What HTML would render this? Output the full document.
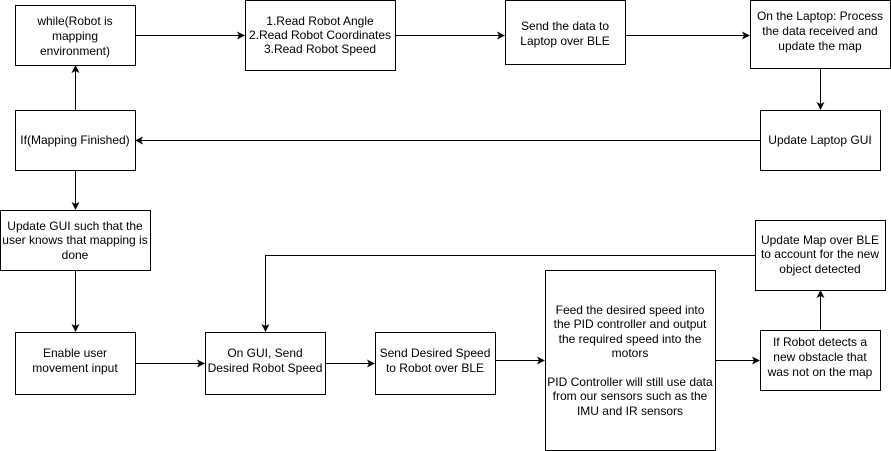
<!DOCTYPE html>
<html><head><style>body{margin:0;background:#fff}svg{display:block}text{font-family:"Liberation Sans",Arial,sans-serif;font-size:12px;fill:#000;text-anchor:middle}</style></head>
<body>
<svg width="891" height="451" viewBox="0 0 891 451" xmlns="http://www.w3.org/2000/svg">
<defs><marker id="a" markerWidth="8" markerHeight="8" refX="7" refY="4" orient="auto" markerUnits="userSpaceOnUse"><path d="M0,0 L8,4 L0,8 L2,4 Z" fill="#000"/></marker></defs>
<g fill="#fff" stroke="#000" stroke-width="1">
<rect x="15.5" y="5.5" width="120" height="60"/>
<rect x="245.5" y="0.5" width="150" height="70"/>
<rect x="505.5" y="0.5" width="120" height="64"/>
<rect x="750.5" y="0.5" width="140" height="68"/>
<rect x="760.5" y="110.5" width="120" height="60"/>
<rect x="15.5" y="110.5" width="120" height="60"/>
<rect x="0.5" y="210.5" width="150" height="60"/>
<rect x="15.5" y="332.5" width="120" height="62"/>
<rect x="205.5" y="332.5" width="120" height="62"/>
<rect x="375.5" y="332.5" width="120" height="62"/>
<rect x="545.5" y="270.5" width="170" height="180"/>
<rect x="760.5" y="330.5" width="120" height="60"/>
<rect x="755.5" y="220.5" width="130" height="70"/>
</g>
<g stroke="#000" stroke-width="1" fill="none" marker-end="url(#a)">
<path d="M135,35.5 H244"/>
<path d="M395,35.5 H504"/>
<path d="M625,35.5 H749"/>
<path d="M820.5,68 V109"/>
<path d="M760,140.5 H136"/>
<path d="M75.5,110 V66"/>
<path d="M75.5,170 V209"/>
<path d="M75.5,270 V331"/>
<path d="M135,363.5 H204"/>
<path d="M325,363.5 H374"/>
<path d="M495,360.5 H544"/>
<path d="M715,360.5 H759"/>
<path d="M820.5,330 V291"/>
<path d="M755,255.5 H265.5 V331"/>
</g>
<text x="75" y="25">while(Robot is</text><text x="75" y="40">mapping</text><text x="75" y="55">environment)</text>
<text x="320" y="25">1.Read Robot Angle</text><text x="320" y="39">2.Read Robot Coordinates</text><text x="320" y="53">3.Read Robot Speed</text>
<text x="565" y="30">Send the data to</text><text x="565" y="45">Laptop over BLE</text>
<text x="820" y="20">On the Laptop: Process</text><text x="820" y="35">the data received and</text><text x="820" y="50">update the map</text>
<text x="820" y="144">Update Laptop GUI</text>
<text x="75" y="144">If(Mapping Finished)</text>
<text x="75" y="230">Update GUI such that the</text><text x="75" y="244">user knows that mapping is</text><text x="75" y="259">done</text>
<text x="75" y="357">Enable user</text><text x="75" y="372">movement input</text>
<text x="265" y="357">On GUI, Send</text><text x="265" y="372">Desired Robot Speed</text>
<text x="435" y="357">Send Desired Speed</text><text x="435" y="372">to Robot over BLE</text>
<text x="630" y="314">Feed the desired speed into</text><text x="630" y="328">the PID controller and output</text><text x="630" y="343">the required speed into the</text><text x="630" y="357">motors</text>
<text x="630" y="386">PID Controller will still use data</text><text x="630" y="400">from our sensors such as the</text><text x="630" y="415">IMU and IR sensors</text>
<text x="820" y="346">If Robot detects a</text><text x="820" y="361">new obstacle that</text><text x="820" y="376">was not on the map</text>
<text x="820" y="244">Update Map over BLE</text><text x="820" y="258">to account for the new</text><text x="820" y="273">object detected</text>
</svg>
</body></html>
